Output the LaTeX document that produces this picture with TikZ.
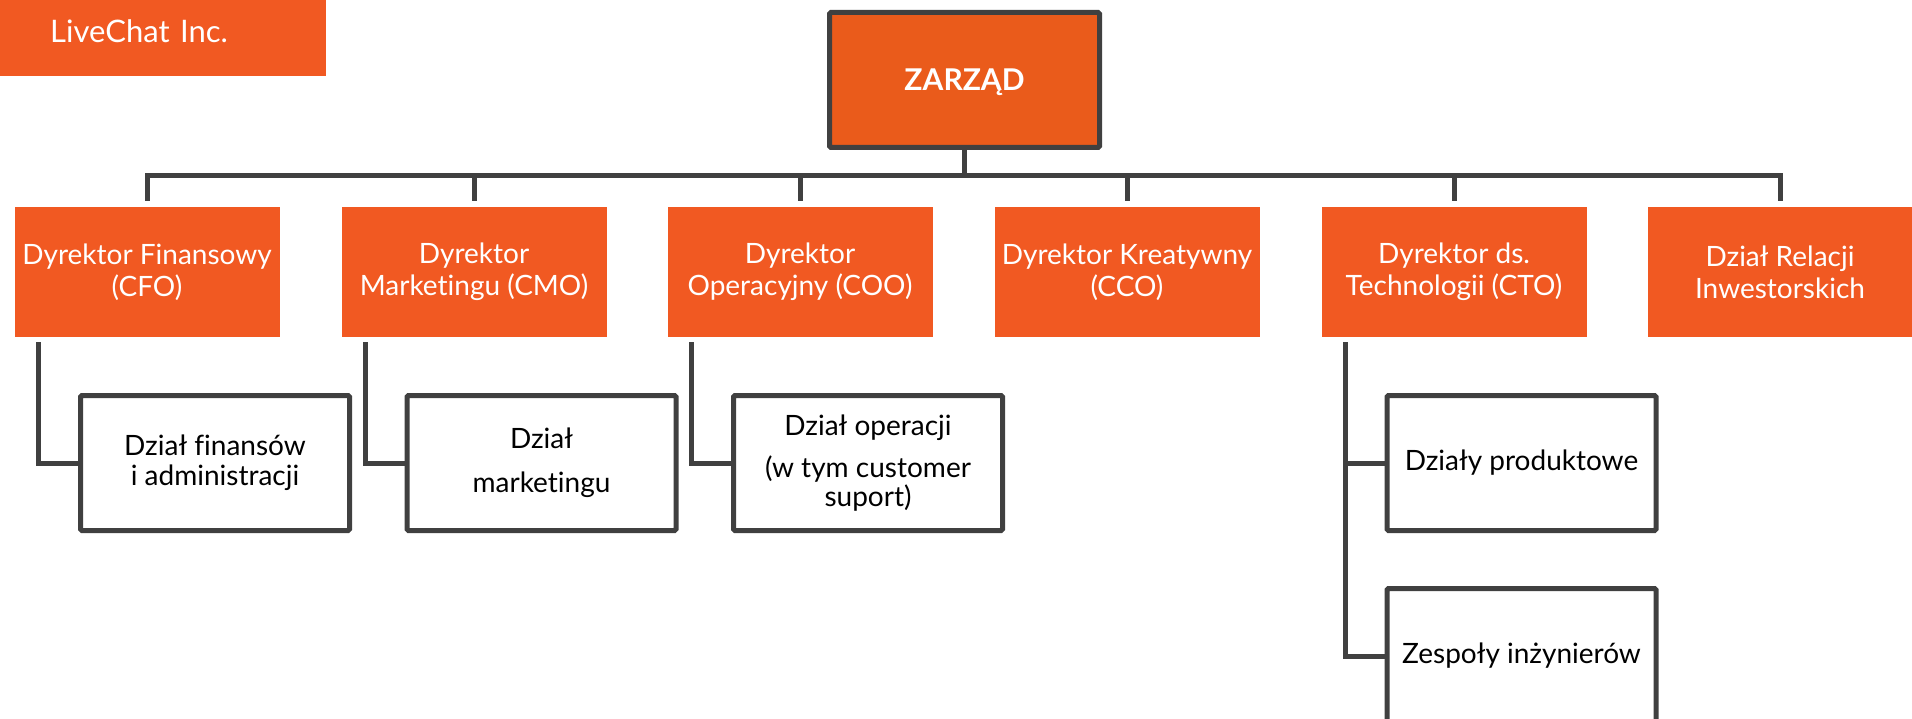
\documentclass[tikz,border=0pt]{standalone}
\usepackage{fontspec}
\setmainfont{Lato}[Ligatures=NoCommon]
\definecolor{pomarancz}{HTML}{F15922}
\definecolor{ciemnypomarancz}{HTML}{EA5B1B}
\definecolor{grafit}{HTML}{404040}
\tikzset{
dyrektor/.style={fill=pomarancz,text=white,minimum width=265pt,minimum height=130pt,inner sep=0pt,align=center,font=\fontsize{28}{32}\selectfont},
dzial/.style={draw=grafit,line width=5pt,fill=white,rounded corners=1.5pt,minimum width=269pt,minimum height=135pt,inner sep=0pt,align=center,font=\fontsize{28}{30}\selectfont},
linia/.style={draw=grafit,line width=5pt}
}
\begin{document}
\begin{tikzpicture}[x=1pt,y=-1pt]
\useasboundingbox (0,0) rectangle (1912,719);
\clip (0,0) rectangle (1912,719);
\node[fill=pomarancz,text=white,anchor=west,minimum height=76pt,text width=226pt,inner xsep=50pt,inner ysep=0pt,text depth=13pt,align=left,font=\fontsize{31}{36}\selectfont] (firma) at (0,38) {LiveChat Inc.};
\node[fill=ciemnypomarancz,draw=grafit,line width=5pt,rounded corners=1.5pt,minimum width=270pt,minimum height=135pt,text=white,text depth=0pt,font=\fontsize{30}{36}\selectfont\bfseries] (zarzad) at (964.5,80) {ZARZĄD};
\coordinate (szyna) at (964.5,176);
\node[dyrektor] (cfo) at (147,272) {Dyrektor Finansowy\\(CFO)};
\node[dyrektor] (cmo) at (474,272) {Dyrektor\\Market\kern0pt ingu (CMO)};
\node[dyrektor] (coo) at (800,272) {Dyrektor\\Operacyjny (COO)};
\node[dyrektor] (cco) at (1127,272) {Dyrektor Kreatywny\\(CCO)};
\node[dyrektor] (cto) at (1454,272) {Dyrektor ds.\\Technologii (CTO)};
\node[dyrektor] (relacje) at (1780,272) {Dział Relacji\\Inwestorskich};
\node[dzial] (finanse) at (215,463) {Dział finansów\\i administracji};
\node[dzial] (marketing) at (541.5,463) {Dział\\[14pt]market\kern0pt ingu};
\node[dzial] (operacje) at (868,463) {Dział operacji\\[12pt](w tym customer\\[-1pt]suport)};
\node[dzial] (produkty) at (1521.5,463) {Działy produktowe};
\node[dzial] (inzynierowie) at (1521.5,656) {Zespoły inżynierów};
\draw[linia] (zarzad.south) -- (szyna);
\draw[linia,shorten >=6pt] (szyna) -| (cfo.north);
\draw[linia,shorten >=6pt] (szyna) -| (cmo.north);
\draw[linia,shorten >=6pt] (szyna) -| (coo.north);
\draw[linia,shorten >=6pt] (szyna) -| (cco.north);
\draw[linia,shorten >=6pt] (szyna) -| (cto.north);
\draw[linia,shorten >=6pt] (szyna) -| (relacje.north);
\draw[linia] ([xshift=24pt,yshift=-5pt]cfo.south west) |- (finanse.west);
\draw[linia] ([xshift=24pt,yshift=-5pt]cmo.south west) |- (marketing.west);
\draw[linia] ([xshift=24pt,yshift=-5pt]coo.south west) |- (operacje.west);
\draw[linia] ([xshift=24pt,yshift=-5pt]cto.south west) |- (produkty.west);
\draw[linia] ([xshift=24pt,yshift=-5pt]cto.south west) |- (inzynierowie.west);
\end{tikzpicture}
\end{document}
